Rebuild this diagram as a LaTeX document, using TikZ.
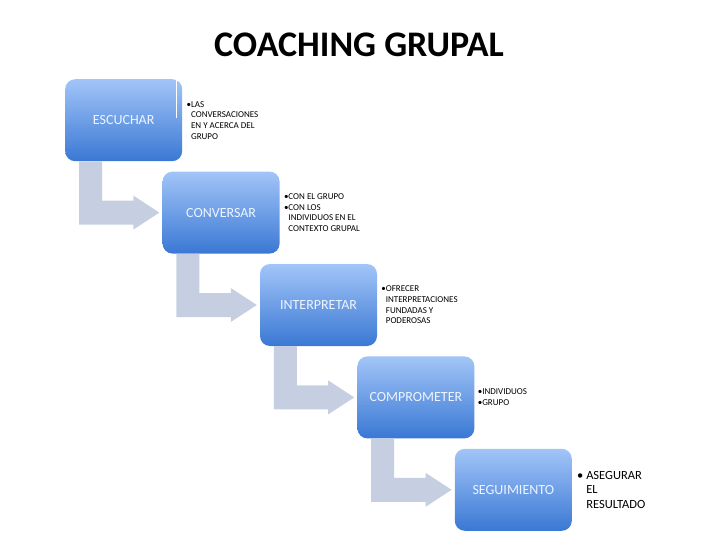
\documentclass[tikz,border=0pt]{standalone}
\usepackage{fontspec}
\setmainfont{Carlito}
\usepackage{xcolor}
\usepackage{tikz}
\usetikzlibrary{shapes,arrows,positioning,calc}

\definecolor{boxtop}{RGB}{162,197,248}
\definecolor{boxbottom}{RGB}{58,120,212}
\definecolor{flowgray}{RGB}{198,207,226}
\definecolor{labelwhite}{RGB}{238,244,255}

\begin{document}
\begin{tikzpicture}[x=1pt, y=-1pt]
    \tikzstyle{stepbox} = [rectangle, rounded corners=10pt, minimum width=117pt, minimum height=82pt, top color=boxtop, bottom color=boxbottom, text=labelwhite, font=\fontsize{14}{16}\selectfont, align=center]
    \tikzstyle{note} = [inner sep=0pt, align=left, font=\fontsize{9}{10.7}\selectfont]
    \tikzstyle{bignote} = [inner sep=0pt, align=left, font=\fontsize{12.5}{14.5}\selectfont]
    \tikzstyle{flowarrow} = [fill=flowgray]

    \useasboundingbox (0,0) rectangle (720,540);

    % Title
    \node [font=\fontsize{36}{42}\selectfont\bfseries] (title) at (359,45) {COACHING GRUPAL};

    % Nodes
    \node [stepbox, anchor=north west] (escuchar) at (65,79) {ESCUCHAR};
    \node [stepbox, below right=10pt and -20pt of escuchar] (conversar) {CONVERSAR};
    \node [stepbox, below right=10pt and -20pt of conversar] (interpretar) {INTERPRETAR};
    \node [stepbox, below right=10pt and -20pt of interpretar] (comprometer) {COMPROMETER};
    \node [stepbox, below right=10pt and -20pt of comprometer] (seguimiento) {SEGUIMIENTO};

    \draw [white, line width=1pt] ($(escuchar.north east)+(-6,1)$) -- ++(0,38);

    % Notes
    \node [note, right=4pt of escuchar] (n_escuchar) {\textbullet LAS\\ \hphantom{\textbullet}CONVERSACIONES\\ \hphantom{\textbullet}EN Y ACERCA DEL\\ \hphantom{\textbullet}GRUPO};
    \node [note, right=4pt of conversar] (n_conversar) {\textbullet CON EL GRUPO\\ \textbullet CON LOS\\ \hphantom{\textbullet}INDIVIDUOS EN EL\\ \hphantom{\textbullet}CONTEXTO GRUPAL};
    \node [note, right=4pt of interpretar] (n_interpretar) {\textbullet OFRECER\\ \hphantom{\textbullet}INTERPRETACIONES\\ \hphantom{\textbullet}FUNDADAS Y\\ \hphantom{\textbullet}PODEROSAS};
    \node [note, right=3pt of comprometer] (n_comprometer) {\textbullet INDIVIDUOS\\ \textbullet GRUPO};
    \node [bignote, right=5pt of seguimiento] (n_seguimiento) {\textbullet\ ASEGURAR\\ \hphantom{\textbullet\ }EL\\ \hphantom{\textbullet\ }RESULTADO};

    % Paths
    \fill [flowarrow] ($(escuchar.south west)+(14,0)$) |- ($(conversar.west)+(-29,12)$) -- ++(0,5) -- ($(conversar.west)+(-3,0)$) -- ++(-26,-17) -- ++(0,5) -| ($(escuchar.south west)+(37,0)$) -- cycle;
    \fill [flowarrow] ($(conversar.south west)+(14,0)$) |- ($(interpretar.west)+(-29,12)$) -- ++(0,5) -- ($(interpretar.west)+(-3,0)$) -- ++(-26,-17) -- ++(0,5) -| ($(conversar.south west)+(37,0)$) -- cycle;
    \fill [flowarrow] ($(interpretar.south west)+(14,0)$) |- ($(comprometer.west)+(-29,12)$) -- ++(0,5) -- ($(comprometer.west)+(-3,0)$) -- ++(-26,-17) -- ++(0,5) -| ($(interpretar.south west)+(37,0)$) -- cycle;
    \fill [flowarrow] ($(comprometer.south west)+(14,0)$) |- ($(seguimiento.west)+(-29,12)$) -- ++(0,5) -- ($(seguimiento.west)+(-3,0)$) -- ++(-26,-17) -- ++(0,5) -| ($(comprometer.south west)+(37,0)$) -- cycle;
\end{tikzpicture}
\end{document}
